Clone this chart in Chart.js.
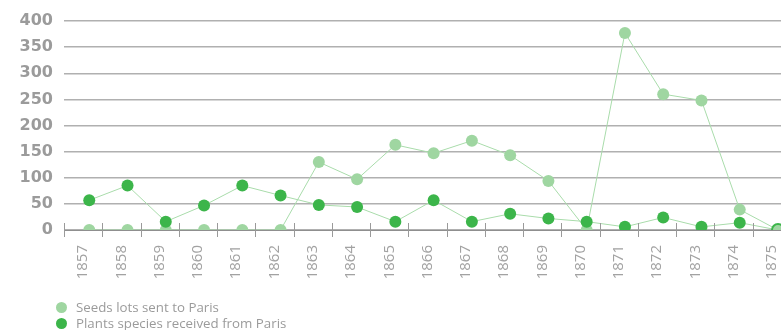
<!DOCTYPE html>
<html>
<head>
<meta charset="utf-8">
<script src="https://cdn.jsdelivr.net/npm/chart.js@4/dist/chart.umd.min.js"></script>
<style>
  html, body { margin: 0; padding: 0; background: #fff; overflow: hidden; }
  .wrap { position: relative; width: 781px; height: 330px; overflow: hidden; }
  .wrap canvas { position: absolute; left: 0; top: 0; }
  .legend { position: absolute; left: 56px; top: 299px; font: 13.3px "Open Sans", sans-serif; color: #9b9b9b; }
  .legend div { height: 16px; line-height: 16px; white-space: nowrap; }
  .legend span { display: inline-block; width: 11px; height: 11px; border-radius: 50%; margin-right: 9px; vertical-align: -1px; }
</style>
</head>
<body>
<div class="wrap">
  <canvas id="myChart" width="811" height="330"></canvas>
  <div class="legend" id="legend"></div>
</div>
<script>
const years = [1857, 1858, 1859, 1860, 1861, 1862, 1863, 1864, 1865, 1866,
               1867, 1868, 1869, 1870, 1871, 1872, 1873, 1874, 1875]
const seedsSent = [0, 0, 0, 0, 0, 0, 130, 97, 163, 147,
                   171, 143, 94, 0, 377, 260, 248, 39, 0]
const plantsReceived = [57, 85, 16, 47, 85, 66, 48, 44, 16, 57,
                        16, 31, 22, 16, 6, 24, 6, 14, 0]
const yTicks = [0, 50, 100, 150, 200, 250, 300, 350, 400]

const lightGreen = '#9fd6a1'
const darkGreen = '#3cb54a'
const lineGreen = '#a9dcab'
const gray = '#9b9b9b'

const toPoints = values => values.map((v, i) => ({ x: years[i], y: v }))

// small ticks crossing the base line at each category boundary
const crossTicks = {
    id: 'crossTicks',
    afterDraw(chart) {
        const scale = chart.scales.x
        const ctx = chart.ctx
        const y = chart.scales.y.getPixelForValue(0)
        const step = scale.getPixelForValue(1) - scale.getPixelForValue(0)
        ctx.save()
        ctx.strokeStyle = '#9a9a9a'
        ctx.lineWidth = 1
        for (let i = 0; i <= years.length; i++) {
            const x = Math.round(scale.getPixelForValue(i) - step / 2) + 0.5
            ctx.beginPath()
            ctx.moveTo(x, y - 7)
            ctx.lineTo(x, y + 7)
            ctx.stroke()
        }
        ctx.restore()
    }
}

const lastIndex = years.length - 1

const chart = new Chart(document.getElementById('myChart'), {
    type: 'line',
    data: {
        datasets: [{
            label: 'Seeds lots sent to Paris',
            data: toPoints(seedsSent),
            xAxisID: 'xp',
            borderColor: lineGreen,
            borderWidth: 1,
            pointRadius: 6,
            pointBackgroundColor: lightGreen,
            pointBorderWidth: 0,
            legendColor: lightGreen,
            order: 2
        }, {
            label: 'Plants species received from Paris',
            data: toPoints(plantsReceived),
            xAxisID: 'xp',
            borderColor: lineGreen,
            borderWidth: 1,
            pointRadius: 6,
            pointBackgroundColor: ctx => ctx.dataIndex === lastIndex ? lightGreen : darkGreen,
            pointBorderColor: darkGreen,
            pointBorderWidth: ctx => ctx.dataIndex === lastIndex ? 2 : 0,
            legendColor: darkGreen,
            order: 1
        }]
    },
    options: {
        responsive: false,
        animation: false,
        layout: { padding: { top: 21, right: 20, left: 0, bottom: 0 } },
        plugins: {
            legend: { display: false },
            tooltip: { enabled: false }
        },
        scales: {
            x: {
                type: 'category',
                labels: years.map(String),
                offset: true,
                border: { display: true, color: '#8f8f8f', width: 1 },
                grid: { display: false, drawTicks: false },
                ticks: {
                    minRotation: 90,
                    maxRotation: 90,
                    padding: 15,
                    color: '#a2a2a2',
                    font: { family: 'Open Sans', size: 15 }
                },
                afterFit: scale => { scale.height = 100 }
            },
            xp: {
                type: 'linear',
                display: false,
                min: years[0] - 0.66,
                max: years[lastIndex] + 0.34
            },
            y: {
                min: 0,
                max: 400,
                border: { display: false },
                grid: {
                    drawTicks: false,
                    color: '#b0b0b0',
                    lineWidth: 1.4
                },
                afterBuildTicks: scale => {
                    scale.ticks = yTicks.map(v => ({ value: v }))
                },
                ticks: {
                    padding: 11,
                    color: gray,
                    font: { family: 'DejaVu Sans', size: 16, weight: 'bold' }
                },
                afterFit: scale => { scale.width = 64 }
            }
        }
    },
    plugins: [crossTicks]
})

const legend = document.getElementById('legend')
chart.data.datasets.forEach(ds => {
    const row = document.createElement('div')
    const dot = document.createElement('span')
    dot.style.background = ds.legendColor
    row.appendChild(dot)
    row.appendChild(document.createTextNode(ds.label))
    legend.appendChild(row)
})
</script>
</body>
</html>
